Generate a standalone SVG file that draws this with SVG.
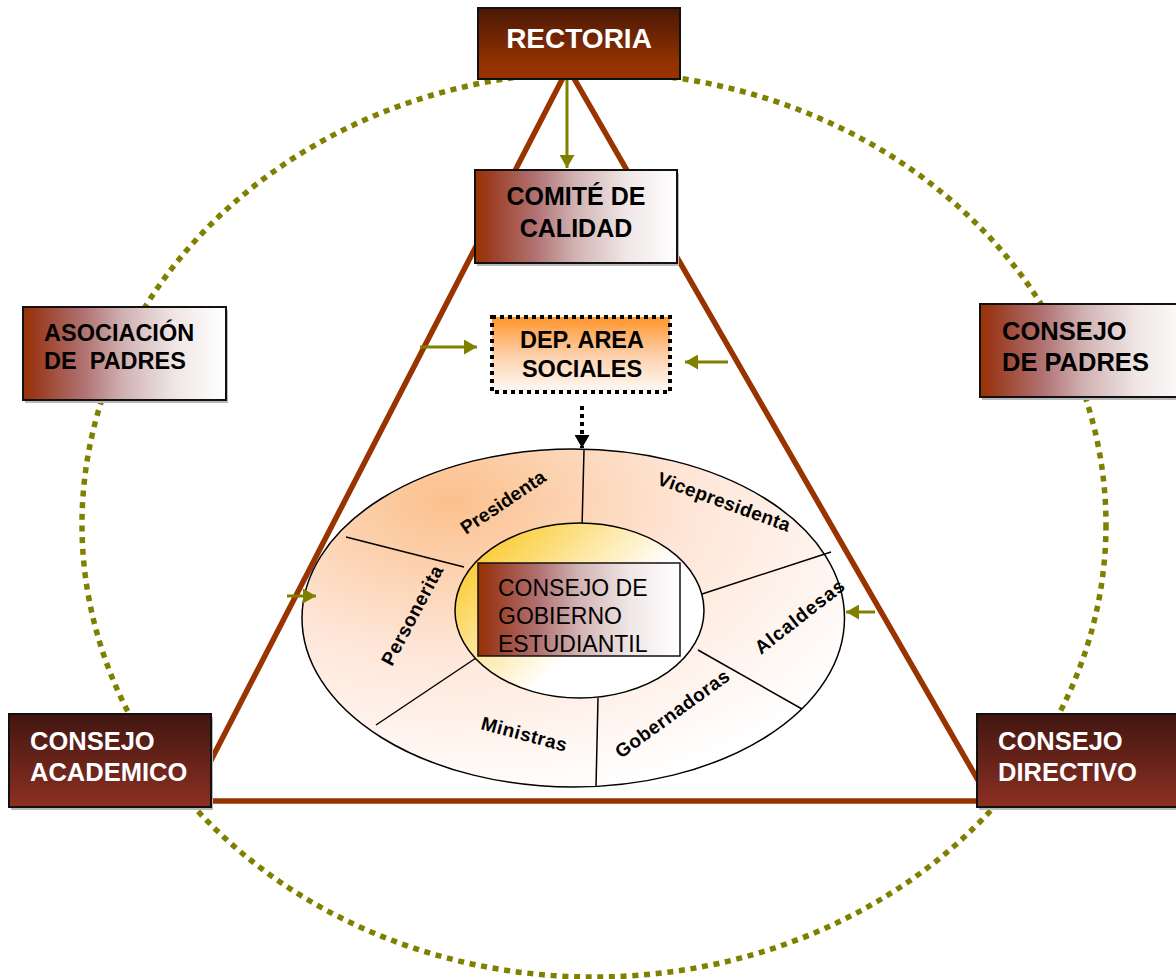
<svg xmlns="http://www.w3.org/2000/svg" width="1176" height="979" viewBox="0 0 1176 979">
<style>
.bx{stroke:#111;stroke-width:2}
.sh{fill:#b8b8b8}
.tw{font-family:"Liberation Sans",Arial,sans-serif;font-weight:bold;fill:#fff}
.tb{font-family:"Liberation Sans",Arial,sans-serif;font-weight:bold;fill:#000}
.tr{font-family:"Liberation Sans",Arial,sans-serif;fill:#000}
.lab{font-family:"Liberation Sans",Arial,sans-serif;font-weight:bold;font-size:19px;fill:#000}
.div{stroke:#000;stroke-width:1.5;fill:none}
.ga{stroke:#808000;stroke-width:3;fill:none;marker-end:url(#ah)}
</style>
<defs>
<linearGradient id="gDark" x1="0" y1="0" x2="0" y2="1">
<stop offset="0" stop-color="#4a1806"/><stop offset="0.8" stop-color="#953200"/><stop offset="1" stop-color="#993300"/>
</linearGradient>
<linearGradient id="gDark2" x1="0" y1="0" x2="0" y2="1">
<stop offset="0" stop-color="#421611"/><stop offset="1" stop-color="#8c3022"/>
</linearGradient>
<linearGradient id="gSide" x1="0" y1="0" x2="1" y2="0">
<stop offset="0" stop-color="#993300"/><stop offset="0.06" stop-color="#9a3a1e"/><stop offset="0.3" stop-color="#b07272"/><stop offset="0.5" stop-color="#d2b3b3"/><stop offset="0.75" stop-color="#f0e6e6"/><stop offset="1" stop-color="#ffffff"/>
</linearGradient>
<linearGradient id="gDep" x1="0" y1="0" x2="0" y2="1">
<stop offset="0" stop-color="#ff9429"/><stop offset="0.5" stop-color="#fdcfa8"/><stop offset="1" stop-color="#fffaf6"/>
</linearGradient>
<radialGradient id="gOuter" cx="0.27" cy="0.15" r="0.9">
<stop offset="0" stop-color="#fbc08c"/><stop offset="0.5" stop-color="#fee6d8"/><stop offset="1" stop-color="#ffffff"/>
</radialGradient>
<linearGradient id="gInner" x1="0.1" y1="0.1" x2="0.65" y2="0.5">
<stop offset="0" stop-color="#fbc92b"/><stop offset="1" stop-color="#ffffff"/>
</linearGradient>
<marker id="ah" markerUnits="userSpaceOnUse" markerWidth="14" markerHeight="15" refX="13" refY="7.5" orient="auto">
<path d="M0,0 L13,7.5 L0,15 Z" fill="#808000"/>
</marker>
<marker id="ahk" markerUnits="userSpaceOnUse" markerWidth="14" markerHeight="15" refX="13" refY="7.5" orient="auto">
<path d="M0,0 L13,7.5 L0,15 Z" fill="#000"/>
</marker>
</defs>
<rect width="1176" height="979" fill="#fff"/>

<g id="frame">
<ellipse cx="594" cy="524.5" rx="512" ry="452.5" fill="none" stroke="#808000" stroke-width="5.5" stroke-dasharray="6 5.7"/>
<path d="M568,68 L190,801 L990,801 Z" fill="none" stroke="#993300" stroke-width="5.5" stroke-linejoin="miter"/>
</g>

<g id="rectoria">
<rect x="478" y="8" width="202" height="71" fill="url(#gDark)" class="bx"/>
<text x="579" y="48" class="tw" font-size="28" text-anchor="middle">RECTORIA</text>
</g>

<g id="comite">
<rect x="477" y="173" width="202" height="93" class="sh"/>
<rect x="475" y="170" width="202" height="93" fill="url(#gSide)" class="bx"/>
<text x="576" y="205" class="tb" font-size="25" text-anchor="middle">COMITÉ DE</text>
<text x="576" y="236.5" class="tb" font-size="25" text-anchor="middle">CALIDAD</text>
</g>

<g id="asociacion">
<rect x="25" y="310" width="203" height="93" class="sh"/>
<rect x="23" y="307" width="203" height="93" fill="url(#gSide)" class="bx"/>
<text x="44" y="341" class="tb" font-size="23.5">ASOCIACIÓN</text>
<text x="44" y="369" class="tb" font-size="23.5">DE&#160; PADRES</text>
</g>

<g id="consejo-padres">
<rect x="982" y="307" width="210" height="93" class="sh"/>
<rect x="980" y="304" width="210" height="93" fill="url(#gSide)" class="bx"/>
<text x="1002" y="340" class="tb" font-size="25.5">CONSEJO</text>
<text x="1002" y="370.5" class="tb" font-size="25.5">DE PADRES</text>
</g>

<g id="consejo-academico">
<rect x="11" y="717" width="202" height="93" class="sh"/>
<rect x="9" y="714" width="202" height="93" fill="url(#gDark2)" class="bx"/>
<text x="30" y="750" class="tw" font-size="25.5">CONSEJO</text>
<text x="30" y="780.5" class="tw" font-size="25.5">ACADEMICO</text>
</g>

<g id="consejo-directivo">
<rect x="979" y="717" width="210" height="93" class="sh"/>
<rect x="977" y="714" width="210" height="93" fill="url(#gDark2)" class="bx"/>
<text x="998" y="750" class="tw" font-size="25.5">CONSEJO</text>
<text x="998" y="780.5" class="tw" font-size="25.5">DIRECTIVO</text>
</g>

<g id="dep-area-sociales">
<rect x="492" y="317" width="178" height="75" fill="url(#gDep)" stroke="#000" stroke-width="4" stroke-dasharray="4 4"/>
<text x="582" y="348" class="tb" font-size="23.5" text-anchor="middle">DEP. AREA</text>
<text x="582" y="377" class="tb" font-size="23.5" text-anchor="middle">SOCIALES</text>
</g>

<g id="gobierno-estudiantil">
<ellipse cx="573.25" cy="618" rx="271.25" ry="169" fill="url(#gOuter)" stroke="#000" stroke-width="1.5"/>
<line x1="584" y1="450" x2="582" y2="528" class="div"/>
<line x1="346" y1="537" x2="464" y2="567" class="div"/>
<line x1="831" y1="552" x2="699" y2="595" class="div"/>
<line x1="376" y1="725" x2="476" y2="658" class="div"/>
<line x1="598" y1="698" x2="596" y2="787" class="div"/>
<line x1="698" y1="650" x2="802" y2="709" class="div"/>
<ellipse cx="579.5" cy="610.5" rx="124.5" ry="87.5" fill="url(#gInner)" stroke="#000" stroke-width="1.5"/>
<rect x="478" y="563" width="202" height="93" fill="url(#gSide)" stroke="#111" stroke-width="1.5"/>
<text x="498" y="596" class="tr" font-size="23">CONSEJO DE</text>
<text x="498" y="624" class="tr" font-size="23">GOBIERNO</text>
<text x="498" y="652" class="tr" font-size="23">ESTUDIANTIL</text>
<text class="lab" transform="translate(466,535) rotate(-34)" textLength="98" lengthAdjust="spacing">Presidenta</text>
<text class="lab" transform="translate(656,484) rotate(20)" textLength="140" lengthAdjust="spacing">Vicepresidenta</text>
<text class="lab" transform="translate(392,667) rotate(-62)" textLength="110" lengthAdjust="spacing">Personerita</text>
<text class="lab" transform="translate(761,655) rotate(-38)" textLength="108" lengthAdjust="spacing">Alcaldesas</text>
<text class="lab" transform="translate(621,759) rotate(-36)" textLength="136" lengthAdjust="spacing">Gobernadoras</text>
<text class="lab" transform="translate(480,729) rotate(15)" textLength="88" lengthAdjust="spacing">Ministras</text>
</g>

<g id="connectors">
<line x1="567" y1="80" x2="567" y2="168" class="ga"/>
<line x1="420" y1="347" x2="477" y2="347" class="ga"/>
<line x1="728" y1="362" x2="685" y2="362" class="ga"/>
<line x1="287" y1="596" x2="316" y2="596" class="ga"/>
<line x1="875" y1="612" x2="846" y2="612" class="ga"/>
<line x1="582" y1="406" x2="582" y2="448" stroke="#000" stroke-width="4" stroke-dasharray="4 4" marker-end="url(#ahk)"/>
</g>
</svg>
